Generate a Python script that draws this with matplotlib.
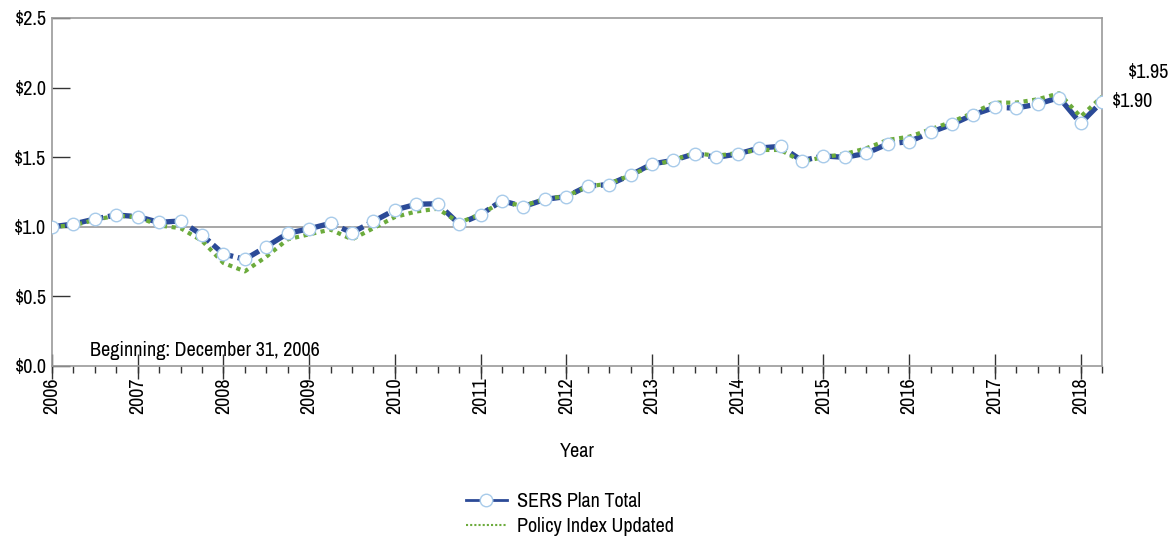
import matplotlib
matplotlib.use("Agg")
import matplotlib.pyplot as plt
from matplotlib.lines import Line2D
from matplotlib.ticker import MultipleLocator, FixedLocator, FuncFormatter

plt.rcParams['font.family'] = ['Archivo Narrow', 'Liberation Sans', 'DejaVu Sans']

# ---- data (quarterly, growth of $1 from Dec 31, 2006) ----
start_year = 2006
quarters_per_year = 4
sers_plan_total = [1.00, 1.02, 1.056, 1.085, 1.073, 1.032, 1.042, 0.941, 0.805, 0.766,
                   0.857, 0.953, 0.986, 1.025, 0.958, 1.039, 1.121, 1.162, 1.166, 1.020,
                   1.087, 1.188, 1.145, 1.197, 1.217, 1.293, 1.303, 1.372, 1.451, 1.478,
                   1.525, 1.499, 1.523, 1.566, 1.578, 1.475, 1.509, 1.499, 1.528, 1.595,
                   1.612, 1.679, 1.736, 1.806, 1.858, 1.853, 1.882, 1.928, 1.744, 1.899]
policy_index = [1.00, 1.01, 1.05, 1.08, 1.07, 1.01, 0.99, 0.90, 0.74, 0.68,
                0.785, 0.91, 0.946, 0.98, 0.91, 0.99, 1.07, 1.11, 1.13, 1.03,
                1.09, 1.18, 1.15, 1.20, 1.22, 1.29, 1.31, 1.37, 1.44, 1.48,
                1.53, 1.51, 1.53, 1.552, 1.552, 1.468, 1.50, 1.523, 1.564, 1.624,
                1.647, 1.70, 1.755, 1.82, 1.892, 1.892, 1.916, 1.959, 1.791, 1.935]
x_years = [start_year + i / quarters_per_year for i in range(len(sers_plan_total))]
year_ticks = list(range(2006, 2019))
y_ticks = [0.0, 0.5, 1.0, 1.5, 2.0, 2.5]
series_names = ["SERS Plan Total", "Policy Index Updated"]
end_labels = ["$1.90", "$1.95"]
note = "Beginning: December 31, 2006"

# ---- style ----
blue = "#2B4A97"
green = "#6CAB3C"
marker_edge = "#A8CBEA"
spine_c = "#9A9A9A"
fs = 14.5

fig = plt.figure(figsize=(11.71, 5.38), dpi=100)
ax = fig.add_axes([52/1171, 1 - 366/538, (1102-52)/1171, (366-18)/538])

ax.axhline(1.0, color="#A0A0A0", lw=1.3, zorder=1)

ax.plot(x_years, sers_plan_total, color=blue, lw=3.8, dashes=(4.5, 0.9),
        solid_capstyle='butt', dash_capstyle='butt', zorder=3)
ax.plot(x_years, policy_index, color=green, lw=3.0, linestyle=(0, (1, 1.1)),
        dash_capstyle='butt', zorder=4)
ax.plot(x_years, sers_plan_total, linestyle='none', marker='o', ms=9,
        mfc='white', mec=marker_edge, mew=1.0, zorder=5)

ax.set_xlim(2006, 2018.25)
ax.set_ylim(0, 2.5)

for s in ax.spines.values():
    s.set_color(spine_c)
    s.set_linewidth(1.2)

ax.xaxis.set_major_locator(FixedLocator(year_ticks))
ax.xaxis.set_minor_locator(MultipleLocator(0.25))
ax.xaxis.remove_overlapping_locs = False
ax.set_xticklabels([str(y) for y in year_ticks], rotation=90, fontsize=fs)
ax.tick_params(axis='x', which='major', direction='inout', length=18, width=1,
               color='#333333', pad=-1)
ax.tick_params(axis='x', which='minor', direction='out', length=5, width=1,
               color='#333333')

ax.yaxis.set_major_locator(FixedLocator(y_ticks))
ax.yaxis.set_major_formatter(FuncFormatter(lambda v, p: f"${v:.1f}"))
ax.tick_params(axis='y', which='major', direction='in', length=13, width=1,
               color='#333333', pad=4, labelsize=fs)

ax.set_xlabel("Year", fontsize=fs, labelpad=20)

ax.text((90-52)/1050, (366-350)/348, note, transform=ax.transAxes,
        fontsize=fs, ha='left', va='center')

ax.annotate(end_labels[0], xy=(x_years[-1], sers_plan_total[-1]),
            xytext=(10, 0), textcoords='offset pixels', ha='left', va='center',
            fontsize=fs, annotation_clip=False)
ax.annotate(end_labels[1], xy=(x_years[-1], policy_index[-1]),
            xytext=(26, 24), textcoords='offset pixels', ha='left', va='center',
            fontsize=fs, annotation_clip=False)

handles = [
    Line2D([], [], color=blue, lw=2, marker='o', ms=9, mfc='white',
           mec=marker_edge, mew=1.0),
    Line2D([], [], color=green, lw=1.5, linestyle=(0, (1, 1))),
]
fig.legend(handles, series_names, loc='center', bbox_to_anchor=(570/1171, 1 - 514/538),
           frameon=False, fontsize=fs, handlelength=2.0, handletextpad=0.5,
           labelspacing=0.3)

fig.savefig("out.png", dpi=100)
